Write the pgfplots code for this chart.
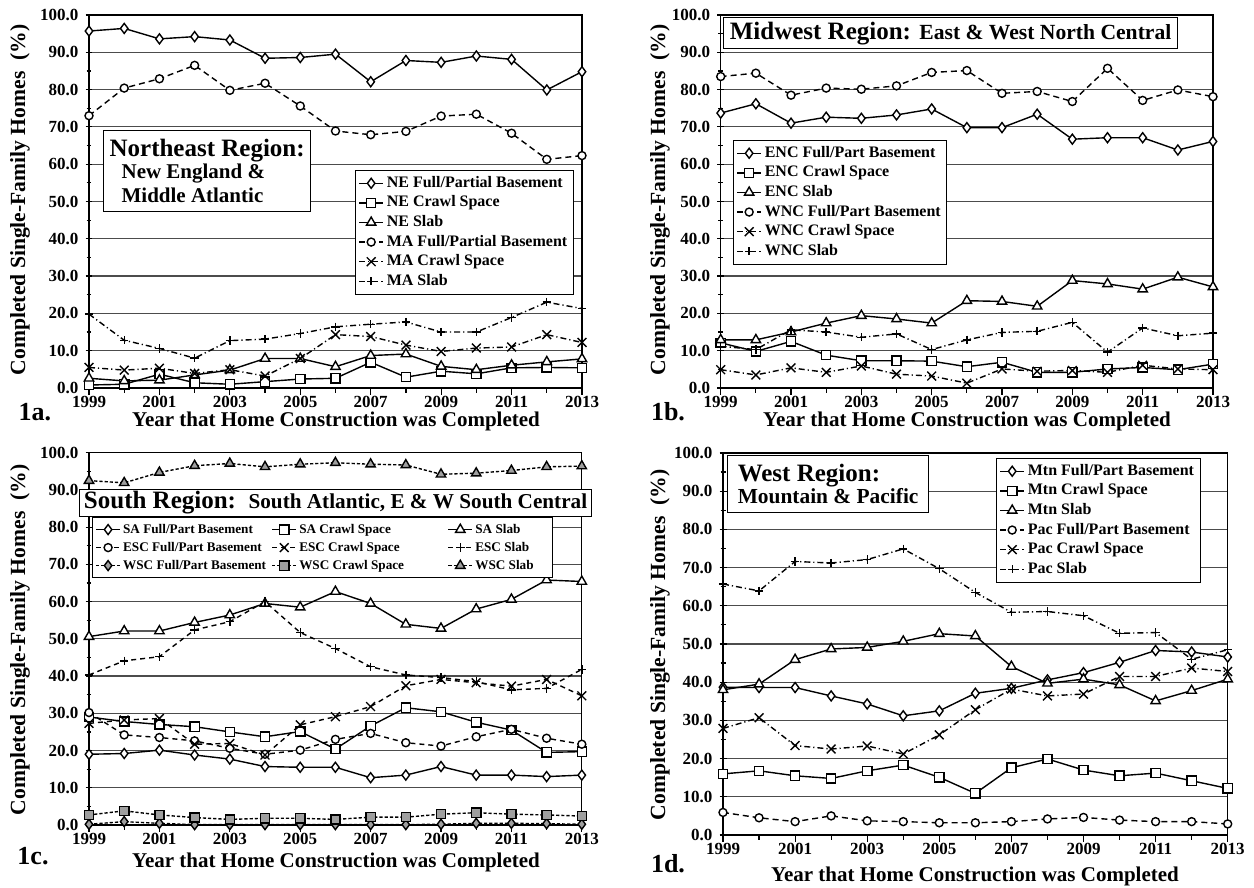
\documentclass[border=0pt]{standalone}
\usepackage{fontspec}
\setmainfont{Liberation Serif}
\usepackage{pgfplots}
\pgfplotsset{compat=1.18}

\pgfplotsset{
 panel/.style={
  scale only axis, anchor=south west,
  xmin=1999, xmax=2013, ymin=0, ymax=100,
  xtick={1999,2001,...,2013}, minor xtick={2000,2002,...,2012},
  ytick={0,10,...,100}, minor ytick={5,15,...,95},
  tick pos=left,
  ymajorgrids, major grid style={black!70, line width=0.6pt},
  axis line style={black, line width=0.6pt},
  every tick/.style={black, line width=0.6pt},
  xtick align=outside, ytick align=center,
  major tick length=3.5pt, minor tick length=2.5pt,
  ticklabel style={font=\fontsize{8.5}{10}\selectfont\bfseries},
  /pgf/number format/assume math mode=true,
  xticklabel style={/pgf/number format/1000 sep={}, yshift=1.2pt, inner ysep=1.5pt},
  yticklabel style={/pgf/number format/.cd, fixed, fixed zerofill, precision=1},
  legend style={font=\fontsize{8}{9.5}\selectfont\bfseries, draw=black, line width=0.5pt, fill=white,
    inner sep=1.5pt, nodes={inner ysep=1.1pt, inner xsep=1.5pt, text height=5.8pt, text depth=1.8pt}},
  legend cell align=left,
  legend image code/.code={\draw[mark repeat=2,mark phase=2] plot coordinates {(0cm,0cm) (0.21cm,0cm) (0.42cm,0cm)};},
  every axis plot/.append style={line width=0.7pt, black},
  clip=false,
 },
 sfd/.style={solid, mark=diamond*, mark size=2.5pt, mark options={solid, fill=white}},
 sfs/.style={solid, mark=square*, mark size=2.3pt, mark options={solid, fill=white}},
 sft/.style={solid, mark=triangle*, mark size=2.7pt, mark options={solid, fill=white}},
 dco/.style={dash pattern=on 3pt off 2pt, mark=*, mark size=2pt, mark options={solid, fill=white}},
 dcx/.style={dash pattern=on 3pt off 1.5pt on 0.6pt off 1.5pt, mark=x, mark size=3.1pt, mark options={solid}},
 dcp/.style={dash pattern=on 3pt off 1.5pt on 0.6pt off 1.5pt, mark=+, mark size=2.1pt, mark options={solid}},
}

\begin{document}
\begin{tikzpicture}
\path[use as bounding box] (0pt,0pt) rectangle (627pt,444pt);

% ---------------- 1a ----------------
\begin{axis}[panel, at={(44.5pt,250pt)}, width=246.5pt, height=186.5pt,
  legend style={at={(0.5396,0.5845)}, anchor=north west}]
\addplot[sfd] coordinates {(1999,95.7)(2000,96.4)(2001,93.6)(2002,94.2)(2003,93.3)(2004,88.4)(2005,88.6)(2006,89.5)(2007,82.1)(2008,87.8)(2009,87.3)(2010,89.0)(2011,88.1)(2012,79.9)(2013,84.8)};
\addlegendentry{NE Full/Partial Basement}
\addplot[sfs] coordinates {(1999,0.8)(2000,1.0)(2001,3.7)(2002,1.4)(2003,1.0)(2004,1.7)(2005,2.4)(2006,2.6)(2007,6.9)(2008,2.9)(2009,4.5)(2010,3.8)(2011,5.4)(2012,5.5)(2013,5.4)};
\addlegendentry{NE Crawl Space}
\addplot[sft] coordinates {(1999,2.6)(2000,1.9)(2001,2.1)(2002,3.5)(2003,4.8)(2004,7.9)(2005,7.9)(2006,5.7)(2007,8.7)(2008,9.1)(2009,5.8)(2010,4.9)(2011,6.1)(2012,7.0)(2013,7.8)};
\addlegendentry{NE Slab}
\addplot[dco] coordinates {(1999,73.0)(2000,80.4)(2001,82.9)(2002,86.5)(2003,79.8)(2004,81.7)(2005,75.6)(2006,68.9)(2007,67.9)(2008,68.8)(2009,72.9)(2010,73.4)(2011,68.3)(2012,61.3)(2013,62.3)};
\addlegendentry{MA Full/Partial Basement}
\addplot[dcx] coordinates {(1999,5.5)(2000,4.8)(2001,5.3)(2002,3.9)(2003,4.9)(2004,3.2)(2005,7.9)(2006,14.3)(2007,13.8)(2008,11.5)(2009,9.8)(2010,10.7)(2011,11.0)(2012,14.3)(2013,12.2)};
\addlegendentry{MA Crawl Space}
\addplot[dcp] coordinates {(1999,19.8)(2000,12.8)(2001,10.6)(2002,8.0)(2003,12.7)(2004,13.1)(2005,14.6)(2006,16.4)(2007,17.1)(2008,17.7)(2009,15.0)(2010,15.0)(2011,18.9)(2012,23.0)(2013,21.3)};
\addlegendentry{MA Slab}
\end{axis}

% ---------------- 1b ----------------
\begin{axis}[panel, at={(360.35pt,250pt)}, width=246.15pt, height=186.5pt,
  legend style={at={(0.025,0.665)}, anchor=north west}]
\addplot[sfd] coordinates {(1999,73.7)(2000,76.2)(2001,71.0)(2002,72.6)(2003,72.3)(2004,73.2)(2005,74.8)(2006,69.8)(2007,69.8)(2008,73.4)(2009,66.7)(2010,67.1)(2011,67.1)(2012,63.8)(2013,66.1)};
\addlegendentry{ENC Full/Part Basement}
\addplot[sfs] coordinates {(1999,12.1)(2000,9.8)(2001,12.5)(2002,8.8)(2003,7.3)(2004,7.3)(2005,7.2)(2006,5.7)(2007,6.9)(2008,4.2)(2009,4.2)(2010,5.1)(2011,5.5)(2012,4.9)(2013,6.4)};
\addlegendentry{ENC Crawl Space}
\addplot[sft] coordinates {(1999,12.9)(2000,12.9)(2001,15.0)(2002,17.4)(2003,19.4)(2004,18.5)(2005,17.4)(2006,23.4)(2007,23.2)(2008,21.9)(2009,28.8)(2010,27.9)(2011,26.5)(2012,29.7)(2013,27.1)};
\addlegendentry{ENC Slab}
\addplot[dco] coordinates {(1999,83.5)(2000,84.4)(2001,78.5)(2002,80.4)(2003,80.1)(2004,81.0)(2005,84.6)(2006,85.1)(2007,79.0)(2008,79.5)(2009,76.8)(2010,85.7)(2011,77.1)(2012,79.9)(2013,78.1)};
\addlegendentry{WNC Full/Part Basement}
\addplot[dcx] coordinates {(1999,4.9)(2000,3.5)(2001,5.4)(2002,4.2)(2003,5.9)(2004,3.7)(2005,3.2)(2006,1.3)(2007,5.1)(2008,4.5)(2009,4.7)(2010,4.2)(2011,6.1)(2012,5.1)(2013,4.9)};
\addlegendentry{WNC Crawl Space}
\addplot[dcp] coordinates {(1999,11.2)(2000,10.3)(2001,15.6)(2002,15.0)(2003,13.6)(2004,14.5)(2005,10.3)(2006,12.9)(2007,14.9)(2008,15.2)(2009,17.6)(2010,9.6)(2011,16.1)(2012,14.0)(2013,14.7)};
\addlegendentry{WNC Slab}
\end{axis}

% ---------------- 1c ----------------
\begin{axis}[panel, at={(44.5pt,31.5pt)}, width=246.4pt, height=186.15pt,
  legend columns=3,
  legend style={at={(0.006,0.827)}, anchor=north west, font=\fontsize{6.6}{8}\selectfont\bfseries,
    nodes={inner ysep=1.2pt, inner xsep=1.2pt, text height=5pt, text depth=1.6pt}}]
\addplot[sfd] coordinates {(1999,19.0)(2000,19.2)(2001,20.1)(2002,18.8)(2003,17.7)(2004,15.7)(2005,15.5)(2006,15.5)(2007,12.7)(2008,13.4)(2009,15.7)(2010,13.4)(2011,13.4)(2012,13.0)(2013,13.4)};
\addlegendentry{\makebox[73pt][l]{SA Full/Part Basement}}
\addplot[sfs] coordinates {(1999,29.0)(2000,27.8)(2001,27.0)(2002,26.4)(2003,25.0)(2004,23.7)(2005,25.1)(2006,20.4)(2007,26.6)(2008,31.5)(2009,30.4)(2010,27.6)(2011,25.5)(2012,19.5)(2013,19.7)};
\addlegendentry{\makebox[73pt][l]{SA Crawl Space}}
\addplot[sft] coordinates {(1999,50.6)(2000,52.1)(2001,52.1)(2002,54.4)(2003,56.4)(2004,59.5)(2005,58.5)(2006,62.7)(2007,59.5)(2008,53.9)(2009,52.8)(2010,58.0)(2011,60.6)(2012,65.8)(2013,65.4)};
\addlegendentry{\makebox[36pt][l]{SA Slab}}
\addplot[dco, dash pattern=on 2.5pt off 2pt] coordinates {(1999,30.2)(2000,24.2)(2001,23.5)(2002,22.6)(2003,20.6)(2004,19.0)(2005,20.1)(2006,23.0)(2007,24.6)(2008,22.1)(2009,21.2)(2010,23.7)(2011,25.7)(2012,23.3)(2013,21.7)};
\addlegendentry{ESC Full/Part Basement}
\addplot[dcx, dash pattern=on 2.5pt off 2pt] coordinates {(1999,27.3)(2000,28.2)(2001,28.6)(2002,21.7)(2003,21.9)(2004,18.8)(2005,26.9)(2006,29.1)(2007,31.8)(2008,37.4)(2009,39.1)(2010,38.2)(2011,37.3)(2012,39.1)(2013,34.7)};
\addlegendentry{ESC Crawl Space}
\addplot[dcp, dash pattern=on 2.5pt off 2pt] coordinates {(1999,40.3)(2000,44.1)(2001,45.2)(2002,52.4)(2003,54.6)(2004,60.0)(2005,51.7)(2006,47.4)(2007,42.5)(2008,40.3)(2009,39.6)(2010,38.5)(2011,36.3)(2012,36.7)(2013,41.8)};
\addlegendentry{ESC Slab}
\addplot[sfd, dash pattern=on 1.6pt off 1pt, mark options={solid, fill=gray!75}] coordinates {(1999,0.2)(2000,0.9)(2001,0.45)(2002,0.1)(2003,0.1)(2004,0.1)(2005,0.1)(2006,0.1)(2007,0.1)(2008,0.1)(2009,0.2)(2010,0.45)(2011,0.45)(2012,0.35)(2013,0.2)};
\addlegendentry{WSC Full/Part Basement}
\addplot[sfs, dash pattern=on 1.6pt off 1pt, mark options={solid, fill=gray!75}] coordinates {(1999,2.7)(2000,3.8)(2001,2.7)(2002,2.0)(2003,1.5)(2004,1.8)(2005,1.8)(2006,1.5)(2007,2.1)(2008,2.1)(2009,2.9)(2010,3.3)(2011,2.9)(2012,2.7)(2013,2.4)};
\addlegendentry{WSC Crawl Space}
\addplot[sft, dash pattern=on 1.6pt off 1pt, mark options={solid, fill=gray!75}] coordinates {(1999,92.5)(2000,91.9)(2001,94.7)(2002,96.5)(2003,97.1)(2004,96.2)(2005,96.9)(2006,97.3)(2007,96.9)(2008,96.7)(2009,94.2)(2010,94.5)(2011,95.2)(2012,96.2)(2013,96.4)};
\addlegendentry{WSC Slab}
\end{axis}

% ---------------- 1d ----------------
\begin{axis}[panel, at={(361.5pt,26.5pt)}, width=252.35pt, height=191pt,
  legend style={at={(0.541,0.987)}, anchor=north west}]
\addplot[sfd] coordinates {(1999,38.7)(2000,38.6)(2001,38.6)(2002,36.4)(2003,34.3)(2004,31.2)(2005,32.5)(2006,37.1)(2007,38.4)(2008,40.6)(2009,42.5)(2010,45.2)(2011,48.3)(2012,47.9)(2013,46.6)};
\addlegendentry{Mtn Full/Part Basement}
\addplot[sfs] coordinates {(1999,16.0)(2000,16.8)(2001,15.5)(2002,14.8)(2003,16.8)(2004,18.3)(2005,15.1)(2006,10.9)(2007,17.6)(2008,19.9)(2009,17.0)(2010,15.5)(2011,16.2)(2012,14.2)(2013,12.2)};
\addlegendentry{Mtn Crawl Space}
\addplot[sft] coordinates {(1999,38.0)(2000,39.5)(2001,45.9)(2002,48.7)(2003,49.1)(2004,50.7)(2005,52.7)(2006,52.1)(2007,44.1)(2008,39.7)(2009,40.8)(2010,39.3)(2011,35.1)(2012,37.8)(2013,40.8)};
\addlegendentry{Mtn Slab}
\addplot[dco] coordinates {(1999,5.9)(2000,4.5)(2001,3.5)(2002,5.0)(2003,3.7)(2004,3.5)(2005,3.2)(2006,3.2)(2007,3.5)(2008,4.2)(2009,4.6)(2010,3.9)(2011,3.5)(2012,3.5)(2013,2.9)};
\addlegendentry{Pac Full/Part Basement}
\addplot[dcx] coordinates {(1999,27.9)(2000,30.7)(2001,23.4)(2002,22.5)(2003,23.3)(2004,21.2)(2005,26.2)(2006,32.8)(2007,38.2)(2008,36.4)(2009,36.9)(2010,41.5)(2011,41.5)(2012,43.7)(2013,42.8)};
\addlegendentry{Pac Crawl Space}
\addplot[dcp] coordinates {(1999,65.7)(2000,63.9)(2001,71.6)(2002,71.2)(2003,72.1)(2004,74.9)(2005,69.7)(2006,63.5)(2007,58.3)(2008,58.5)(2009,57.4)(2010,52.8)(2011,53.0)(2012,46.0)(2013,48.5)};
\addlegendentry{Pac Slab}
\end{axis}

% ---------------- titles ----------------
\node[draw, fill=white, line width=0.6pt, anchor=north west, align=left, inner xsep=3pt, inner ysep=2pt,
  minimum width=103pt, minimum height=40.5pt, font=\bfseries] at (51.5pt,379pt)
  {\fontsize{12.5}{14}\selectfont Northeast Region:\\[-1pt]
   \fontsize{10.5}{12.5}\selectfont\hspace*{6pt}New England \&\\
   \fontsize{10.5}{12.5}\selectfont\hspace*{6pt}Middle Atlantic};
\node[draw, fill=white, line width=0.6pt, anchor=north west, inner xsep=3pt, inner ysep=1.5pt,
  minimum width=227pt, minimum height=15.5pt, font=\bfseries] at (361.5pt,435.5pt)
  {\fontsize{12.5}{14}\selectfont Midwest Region: \fontsize{10.8}{12}\selectfont East \& West North Central\hfill};
\node[draw, fill=white, line width=0.6pt, anchor=north west, inner xsep=2pt, inner ysep=1pt,
  minimum width=256pt, minimum height=13pt, font=\bfseries] at (39.5pt,199.5pt)
  {\fontsize{12.5}{14}\selectfont South Region:\ \ \fontsize{10.6}{12}\selectfont South Atlantic, E \& W South Central};
\node[draw, fill=white, line width=0.6pt, anchor=north west, align=left, inner xsep=3pt, inner ysep=1.5pt,
  minimum width=100.5pt, minimum height=28.5pt, font=\bfseries] at (363.5pt,216.5pt)
  {\fontsize{12.5}{14}\selectfont West Region:\\[-1pt]
   \fontsize{10.7}{12.5}\selectfont Mountain \& Pacific};

% ---------------- axis labels ----------------
\foreach \x/\y in {10pt/344pt, 330pt/344pt, 10pt/124pt, 330pt/121.5pt}{
  \node[rotate=90, font=\fontsize{10.8}{12}\selectfont\bfseries] at (\x,\y) {Completed Single-Family Homes\ \ (\%)};
}
\node[font=\fontsize{10.5}{12}\selectfont\bfseries, inner ysep=1pt] at (168pt,233.5pt) {Year that Home Construction was Completed};
\node[font=\fontsize{10.5}{12}\selectfont\bfseries, inner ysep=1pt] at (483.5pt,233.5pt) {Year that Home Construction was Completed};
\node[font=\fontsize{10.5}{12}\selectfont\bfseries, inner ysep=1pt] at (168pt,13pt) {Year that Home Construction was Completed};
\node[font=\fontsize{10.5}{12}\selectfont\bfseries, inner ysep=1pt] at (487.5pt,6pt) {Year that Home Construction was Completed};

\node[font=\fontsize{13}{15}\selectfont\bfseries] at (17.5pt,238pt) {1a.};
\node[font=\fontsize{13}{15}\selectfont\bfseries] at (334pt,238pt) {1b.};
\node[font=\fontsize{13}{15}\selectfont\bfseries] at (16.5pt,16pt) {1c.};
\node[font=\fontsize{13}{15}\selectfont\bfseries] at (334pt,12pt) {1d.};
\end{tikzpicture}
\end{document}
